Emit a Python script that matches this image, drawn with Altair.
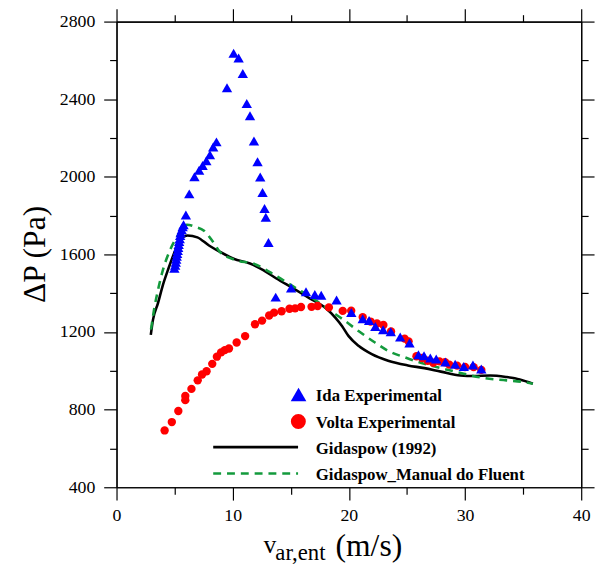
import altair as alt
import pandas as pd

# ---------------- data ----------------
ida_x = [4.98, 5.05, 5.10, 5.14, 5.18, 5.22, 5.27, 5.31, 5.35, 5.39, 5.44, 5.48, 5.52, 5.61, 5.69, 5.77, 5.97,
         6.26, 6.71, 7.11, 7.41, 7.73, 8.04, 8.32, 8.60,
         9.51, 10.08, 10.51, 10.87, 11.21, 11.49, 11.83, 12.14, 12.37, 12.57, 12.74, 12.85, 13.08,
         13.70, 15.03, 16.31, 17.07, 17.62, 18.94, 20.21, 21.19, 21.74, 22.28, 22.95, 23.61, 24.42,
         25.22, 25.99, 26.47, 27.01, 27.52, 28.31, 29.15, 29.89, 30.68, 31.40]
ida_y = [1529, 1544, 1559, 1575, 1590, 1605, 1620, 1636, 1651, 1666, 1681, 1697, 1712, 1727, 1742, 1753, 1803,
         1912, 2000, 2034, 2058, 2083, 2114, 2154, 2180,
         2459, 2637, 2612, 2532, 2378, 2315, 2185, 2078, 1999, 1919, 1837, 1792, 1661,
         1380, 1427, 1408, 1393, 1390, 1365, 1301, 1268, 1259, 1229, 1212, 1202, 1174,
         1144, 1083, 1078, 1066, 1061, 1046, 1034, 1022, 1030, 1010]

volta_x = [4.14, 4.76, 5.32, 5.92, 5.92, 6.45, 6.99, 7.36, 7.75, 8.24, 8.64, 9.00, 9.32, 9.68, 10.34,
           11.07, 11.92, 12.53, 13.14, 13.56, 14.21, 14.89, 15.37, 15.88, 16.79, 17.31, 18.28, 19.47,
           20.20, 21.19, 21.87, 22.42, 22.97, 23.63, 24.80, 25.14, 25.82, 26.30, 26.78, 27.26, 27.80,
           28.28, 28.65, 29.32, 30.00, 30.74, 31.40]
volta_y = [693, 736, 793, 849, 871, 907, 951, 981, 998, 1036, 1073, 1095, 1107, 1115, 1146,
           1179, 1240, 1259, 1285, 1300, 1307, 1320, 1322, 1329, 1330, 1334, 1327, 1309,
           1310, 1277, 1254, 1244, 1236, 1203, 1166, 1152, 1075, 1066, 1052, 1042, 1049,
           1044, 1032, 1027, 1020, 1019, 1005]

gid_x = [2.95, 3.14, 3.57, 3.99, 4.42, 5.12, 5.69, 6.11, 6.96, 7.96, 8.94, 10.08, 11.49, 12.63, 13.76,
         15.18, 16.59, 18.00, 18.85, 19.42, 19.98, 20.83, 21.97, 23.38, 25.08, 26.50, 27.92, 29.61,
         30.74, 32.16, 33.57, 34.71, 35.84]
gid_y = [1185, 1264, 1349, 1442, 1519, 1629, 1688, 1698, 1688, 1646, 1612, 1578, 1553, 1519, 1476,
         1426, 1375, 1324, 1273, 1230, 1179, 1129, 1086, 1052, 1028, 1014, 996, 976,
         973, 976, 968, 956, 934]

fluent_x = [2.97, 3.23, 3.57, 3.99, 4.59, 5.27, 6.06, 6.79, 7.53, 8.24, 8.92, 10.36, 11.78, 13.16, 14.33,
            15.46, 16.87, 18.28, 19.70, 20.83, 22.25, 23.38, 24.80, 26.50, 28.20, 29.89, 31.59, 33.57,
            34.99, 35.84]
fluent_y = [1213, 1315, 1417, 1519, 1620, 1697, 1753, 1742, 1722, 1671, 1612, 1569, 1553, 1510, 1468,
            1426, 1375, 1315, 1256, 1205, 1146, 1103, 1070, 1036, 1010, 985, 963, 951,
            943, 934]

legend_labels = ["Ida Experimental", "Volta Experimental", "Gidaspow (1992)", "Gidaspow_Manual do Fluent"]
y_title = "ΔP (Pa)"
x_title_parts = ["v", "ar,ent", "(m/s)"]

x_major = [0, 10, 20, 30, 40]
x_minor = [5, 15, 25, 35]
y_major = [400, 800, 1200, 1600, 2000, 2400, 2800]
y_minor = [600, 1000, 1400, 1800, 2200, 2600]

# ---------------- styling ----------------
W, H = 471, 472
FONT = "Liberation Serif"
BLUE, RED, GREEN = "#0000ff", "#ff0000", "#139a3c"

xs = alt.Scale(domain=[0, 40], nice=False, zero=False)
ys = alt.Scale(domain=[400, 2800], nice=False, zero=False)


def ax(orient, values, size, labels, pad=9):
    return alt.Axis(orient=orient, values=values, tickSize=size, labels=labels, title=None,
                    format="d", grid=False, domain=True, domainColor="black", domainWidth=1.2,
                    tickColor="black", tickWidth=1.2, labelFont=FONT, labelFontSize=18,
                    labelColor="black", labelPadding=pad, labelFlush=False, labelOverlap=False)


ida = pd.DataFrame({"x": ida_x, "y": ida_y})
volta = pd.DataFrame({"x": volta_x, "y": volta_y})
gid = pd.DataFrame({"x": gid_x, "y": gid_y})
flu = pd.DataFrame({"x": fluent_x, "y": fluent_y})

black_line = alt.Chart(gid).mark_line(color="black", strokeWidth=2.6, interpolate="monotone").encode(
    x=alt.X("x:Q", scale=xs, axis=ax("top", x_major, 13, False)),
    y=alt.Y("y:Q", scale=ys, axis=ax("right", y_major, 13, False)),
    order="x:Q")

green_line = alt.Chart(flu).mark_line(color=GREEN, strokeWidth=2.6, strokeDash=[8, 6],
                                      interpolate="monotone").encode(
    x=alt.X("x:Q", scale=xs, axis=ax("top", x_minor, 7, False)),
    y=alt.Y("y:Q", scale=ys, axis=ax("right", y_minor, 7, False)),
    order="x:Q")

volta_pts = alt.Chart(volta).mark_point(shape="circle", filled=True, color=RED, size=72, opacity=1).encode(
    x=alt.X("x:Q", scale=xs, axis=ax("bottom", x_minor, 7, False)),
    y=alt.Y("y:Q", scale=ys, axis=ax("left", y_minor, 7, False)))

ida_pts = alt.Chart(ida).mark_point(shape="triangle-up", filled=True, color=BLUE, size=110, opacity=1).encode(
    x=alt.X("x:Q", scale=xs, axis=ax("bottom", x_major, 13, True, pad=7)),
    y=alt.Y("y:Q", scale=ys, axis=ax("left", y_major, 13, True)))

# ---------------- legend (drawn inside plot) ----------------
leg_tri = alt.Chart(pd.DataFrame({"label": [legend_labels[0]]})).mark_point(
    shape="triangle-up", filled=True, color=BLUE, size=250, opacity=1).encode(
    x=alt.value(184.5), y=alt.value(378))
leg_circ = alt.Chart(pd.DataFrame({"label": [legend_labels[1]]})).mark_point(
    shape="circle", filled=True, color=RED, size=230, opacity=1).encode(
    x=alt.value(184.3), y=alt.value(405.3))
leg_black = alt.Chart(pd.DataFrame({"label": [legend_labels[2]]})).mark_rule(
    color="black", strokeWidth=2.6).encode(x=alt.value(98), x2=alt.value(184), y=alt.value(431.3))
leg_green = alt.Chart(pd.DataFrame({"label": [legend_labels[3]]})).mark_rule(
    color=GREEN, strokeWidth=2.6, strokeDash=[8, 6]).encode(x=alt.value(98), x2=alt.value(184),
                                                            y=alt.value(458))

leg_text = alt.Chart(pd.DataFrame({"label": legend_labels, "py": [385, 412, 438, 465]})).mark_text(
    align="left", baseline="alphabetic", font=FONT, fontSize=17, fontWeight="bold", color="black").encode(
    x=alt.value(202), y=alt.Y("py:Q", scale=alt.Scale(domain=[0, H], range=[0, H]), axis=None),
    text="label:N")

# ---------------- axis titles ----------------
ytitle = alt.Chart(pd.DataFrame({"t": [y_title]})).mark_text(
    angle=270, align="center", baseline="middle", font=FONT, fontSize=32, color="black").encode(
    x=alt.value(-83), y=alt.value(236), text="t:N")

xt_v = alt.Chart(pd.DataFrame({"t": [x_title_parts[0]]})).mark_text(
    align="left", baseline="alphabetic", font=FONT, fontSize=26, color="black").encode(
    x=alt.value(149), y=alt.value(539), text="t:N")
xt_sub = alt.Chart(pd.DataFrame({"t": [x_title_parts[1]]})).mark_text(
    align="left", baseline="alphabetic", font=FONT, fontSize=23, color="black").encode(
    x=alt.value(161), y=alt.value(546), text="t:N")
xt_unit = alt.Chart(pd.DataFrame({"t": [x_title_parts[2]]})).mark_text(
    align="left", baseline="alphabetic", font=FONT, fontSize=32, color="black").encode(
    x=alt.value(222), y=alt.value(542), text="t:N")

chart = alt.layer(
    black_line, green_line, volta_pts, ida_pts,
    leg_tri, leg_circ, leg_black, leg_green, leg_text,
    ytitle, xt_v, xt_sub, xt_unit,
).resolve_scale(y="independent").resolve_axis(x="independent", y="independent").properties(
    width=W, height=H,
    autosize=alt.AutoSizeParams(type="none"),
    padding={"left": 110, "top": 10, "right": 16, "bottom": 74},
).configure_view(stroke=None).configure(background="white")

chart.save("out.html", embed_options={"renderer": "svg", "actions": False})
